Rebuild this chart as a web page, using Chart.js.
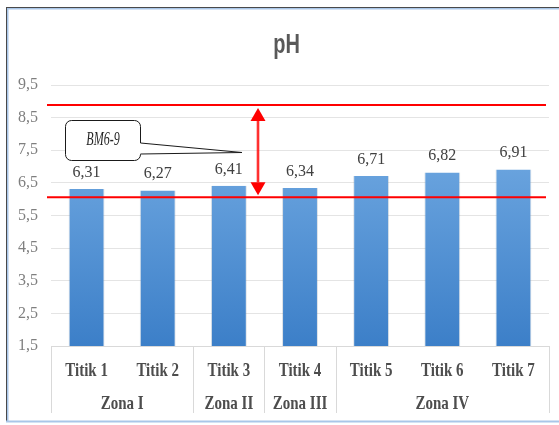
<!DOCTYPE html>
<html>
<head>
<meta charset="utf-8">
<script src="https://cdn.jsdelivr.net/npm/chart.js@4/dist/chart.umd.min.js"></script>
<style>
  html, body { margin: 0; padding: 0; background: #ffffff; }
  #wrap { width: 559px; height: 425px; }
</style>
</head>
<body>
<div id="wrap"><canvas id="c" width="559" height="425"></canvas></div>
<script>
// Sampling points, their zones and measured pH
const points = ['Titik 1', 'Titik 2', 'Titik 3', 'Titik 4', 'Titik 5', 'Titik 6', 'Titik 7'];
const zones = ['Zona I', 'Zona I', 'Zona II', 'Zona III', 'Zona IV', 'Zona IV', 'Zona IV'];
const phValues = [6.31, 6.27, 6.41, 6.34, 6.71, 6.82, 6.91];

// Value axis range
const yMin = 1.5;
const yMax = 9.5;
const yStep = 1;

// Quality-standard band (baku mutu) lines and its label
const bmLines = [6.06, 8.89];
const bmLabel = 'BM6-9';
const chartTitle = 'pH';

const fmt = (v, d) => v.toFixed(d).replace('.', ',');

// Text helper with a vertical stretch around the baseline
function drawText(ctx, s, x, y, font, color, sy, align) {
  ctx.save();
  ctx.font = font;
  ctx.fillStyle = color;
  ctx.textAlign = align || 'center';
  ctx.textBaseline = 'alphabetic';
  ctx.translate(x, y);
  ctx.scale(1, sy);
  ctx.fillText(s, 0, 0);
  ctx.restore();
}

const decor = {
  id: 'decor',
  beforeDraw(chart) {
    const ctx = chart.ctx;
    ctx.save();
    ctx.fillStyle = '#ffffff';
    ctx.fillRect(0, 0, chart.width, chart.height);
    // frame
    ctx.fillStyle = '#4a4a4a';
    ctx.fillRect(6, 7, chart.width - 6, 1);
    ctx.fillRect(6, 7, 1, 415);
    ctx.fillStyle = '#a9c6e8';
    ctx.fillRect(7, 8, chart.width - 7, 1.5);
    ctx.fillRect(7, 8, 1.5, 414);
    ctx.fillRect(6, 420.5, chart.width - 6, 2);
    ctx.restore();
  },
  afterDatasetsDraw(chart) {
    const ctx = chart.ctx;
    const xs = chart.scales.x;
    const ys = chart.scales.y;
    const area = chart.chartArea;
    const n = points.length;
    const step = (xs.right - xs.left) / n;

    // title
    drawText(ctx, chartTitle, 286.5, 53, 'bold 20px "Liberation Sans"', '#595959', 1.4);

    // data labels
    const meta = chart.getDatasetMeta(0);
    meta.data.forEach((bar, i) => {
      drawText(ctx, fmt(phValues[i], 2), bar.x, bar.y - 12, '16px "Liberation Serif"', '#404040', 1.1);
    });

    // category labels, two levels
    ctx.save();
    ctx.strokeStyle = '#d9d9d9';
    ctx.lineWidth = 1;
    for (let i = 0; i <= n; i++) {
      if (i === 0 || i === n || zones[i] !== zones[i - 1]) {
        const x = Math.round(xs.left + i * step) + 0.5;
        ctx.beginPath();
        ctx.moveTo(x, area.bottom);
        ctx.lineTo(x, area.bottom + 67);
        ctx.stroke();
      }
    }
    ctx.restore();
    points.forEach((p, i) => {
      drawText(ctx, p, xs.getPixelForValue(i), area.bottom + 30, 'bold 15px "Liberation Serif"', '#4d4d4d', 1.28);
    });
    let start = 0;
    for (let i = 1; i <= n; i++) {
      if (i === n || zones[i] !== zones[start]) {
        const cx = (xs.getPixelForValue(start) + xs.getPixelForValue(i - 1)) / 2;
        drawText(ctx, zones[start], cx, area.bottom + 63, 'bold 15px "Liberation Serif"', '#4d4d4d', 1.28);
        start = i;
      }
    }

    // red limit lines
    ctx.save();
    ctx.strokeStyle = '#ff0000';
    ctx.lineWidth = 2;
    bmLines.forEach(v => {
      const y = ys.getPixelForValue(v);
      ctx.beginPath();
      ctx.moveTo(area.left - 4, y);
      ctx.lineTo(area.right - 3, y);
      ctx.stroke();
    });

    // double-headed arrow between the limits
    const ax = xs.getPixelForValue(2) + 0.41 * step;
    const yTop = ys.getPixelForValue(bmLines[1]) + 3;
    const yBot = ys.getPixelForValue(bmLines[0]) - 2;
    const hw = 7.5, hh = 13;
    ctx.strokeStyle = 'rgba(255,0,0,0.25)';
    ctx.lineWidth = 4;
    ctx.beginPath();
    ctx.moveTo(ax, yTop + hh);
    ctx.lineTo(ax, yBot - hh);
    ctx.stroke();
    ctx.strokeStyle = '#ff0000';
    ctx.lineWidth = 1.5;
    ctx.beginPath();
    ctx.moveTo(ax, yTop + hh);
    ctx.lineTo(ax, yBot - hh);
    ctx.stroke();
    ctx.fillStyle = '#ff0000';
    ctx.beginPath();
    ctx.moveTo(ax, yTop);
    ctx.lineTo(ax + hw, yTop + hh);
    ctx.lineTo(ax - hw, yTop + hh);
    ctx.closePath();
    ctx.fill();
    ctx.beginPath();
    ctx.moveTo(ax, yBot);
    ctx.lineTo(ax + hw, yBot - hh);
    ctx.lineTo(ax - hw, yBot - hh);
    ctx.closePath();
    ctx.fill();
    ctx.restore();

    // callout with pointer
    const bx0 = 65.5, by0 = 120.5, bx1 = 140.5, by1 = 160.5, r = 6;
    const tipX = 242, tipY = 152.5;
    ctx.save();
    ctx.beginPath();
    ctx.moveTo(bx0 + r, by0);
    ctx.lineTo(bx1 - r, by0);
    ctx.arcTo(bx1, by0, bx1, by0 + r, r);
    ctx.lineTo(bx1, 143);
    ctx.lineTo(tipX, tipY);
    ctx.lineTo(bx1, 154);
    ctx.lineTo(bx1, by1 - r);
    ctx.arcTo(bx1, by1, bx1 - r, by1, r);
    ctx.lineTo(bx0 + r, by1);
    ctx.arcTo(bx0, by1, bx0, by1 - r, r);
    ctx.lineTo(bx0, by0 + r);
    ctx.arcTo(bx0, by0, bx0 + r, by0, r);
    ctx.closePath();
    ctx.fillStyle = '#ffffff';
    ctx.fill();
    ctx.strokeStyle = '#1a1a1a';
    ctx.lineWidth = 1;
    ctx.stroke();
    ctx.restore();
    drawText(ctx, bmLabel, (bx0 + bx1) / 2, 145, 'italic 12px "Liberation Serif"', '#262626', 1.55);
  }
};

new Chart(document.getElementById('c'), {
  type: 'bar',
  data: {
    labels: points,
    datasets: [{
      data: phValues,
      backgroundColor: (c) => {
        const area = c.chart.chartArea;
        if (!area) return '#5b9bd5';
        const g = c.chart.ctx.createLinearGradient(0, c.chart.scales.y.getPixelForValue(7), 0, area.bottom);
        g.addColorStop(0, '#69a3de');
        g.addColorStop(1, '#3c7fc8');
        return g;
      },
      borderColor: 'rgba(120,140,160,0.25)',
      borderWidth: { left: 1, right: 1, top: 0, bottom: 0 },
      barPercentage: 0.505,
      categoryPercentage: 1
    }]
  },
  options: {
    responsive: false,
    animation: false,
    devicePixelRatio: 1,
    layout: { padding: { top: 85, right: 10, left: 0, bottom: 0 } },
    plugins: { legend: { display: false }, tooltip: { enabled: false }, title: { display: false } },
    scales: {
      x: {
        type: 'category',
        ticks: { display: false },
        grid: { display: false, drawTicks: false },
        border: { display: true, color: '#d9d9d9', width: 1 },
        afterFit: (s) => { s.height = 79; }
      },
      y: {
        min: yMin,
        max: yMax,
        ticks: {
          stepSize: yStep,
          padding: 13,
          color: '#7f7f7f',
          font: { family: '"Liberation Serif"', size: 16 },
          callback: (v) => fmt(v, 1)
        },
        grid: { color: '#e4e4e4', lineWidth: 1, drawTicks: false },
        border: { display: false },
        afterFit: (s) => { s.width = 51; }
      }
    }
  },
  plugins: [decor]
});
</script>
</body>
</html>
